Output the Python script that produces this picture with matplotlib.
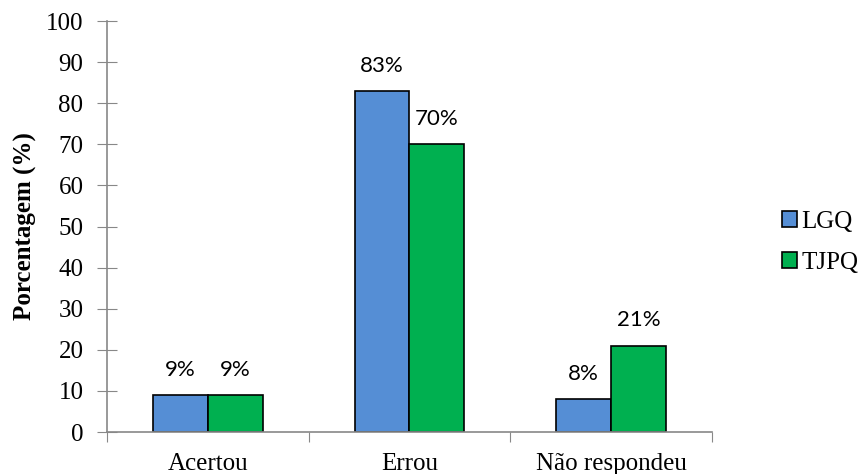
import matplotlib.pyplot as plt
import numpy as np

# Data
categories = ['Acertou', 'Errou', 'Não respondeu']
lgq = [9, 83, 8]
tjpq = [9, 70, 21]
series_names = ['LGQ', 'TJPQ']

fig = plt.figure(figsize=(8.63, 4.74), dpi=100)
ax = fig.add_axes([0.124, 0.0886, 0.701, 0.867])

x = np.arange(len(categories)) + 0.5
w = 0.272
b1 = ax.bar(x - w / 2, lgq, w, color='#558ED5', edgecolor='black', linewidth=1.2, label=series_names[0])
b2 = ax.bar(x + w / 2, tjpq, w, color='#00B050', edgecolor='black', linewidth=1.2, label=series_names[1])

# Data labels
for bars, vals in [(b1, lgq), (b2, tjpq)]:
    for r, v in zip(bars, vals):
        ax.text(r.get_x() + r.get_width() / 2, v + 3.7, f'{v}%', ha='center', va='bottom',
                fontsize=16, family='Lato')

ax.set_xlim(0, 3)
ax.set_ylim(0, 100)
ax.set_yticks(range(0, 101, 10))
ax.set_xticks([0, 1, 2, 3], minor=False)
ax.set_xticklabels([])
ax.set_xticks(x, minor=True)
ax.set_xticklabels(categories, minor=True, family='Liberation Serif', fontsize=18)
ax.tick_params(axis='x', which='minor', length=0, pad=15)
ax.tick_params(axis='x', which='major', direction='out', length=7, color='#888888')
ax.tick_params(axis='y', direction='inout', length=14, color='#888888', pad=10)
for lab in ax.get_yticklabels():
    lab.set_family('Liberation Serif')
    lab.set_fontsize(18)

for s in ['top', 'right']:
    ax.spines[s].set_visible(False)
for s in ['left', 'bottom']:
    ax.spines[s].set_color('#888888')
    ax.spines[s].set_linewidth(1.2)

ax.set_ylabel('Porcentagem (%)', family='Liberation Serif', fontsize=18, fontweight='bold')
ax.yaxis.set_label_coords(-0.116, 0.5)

ax.legend(loc='center left', bbox_to_anchor=(1.1, 0.462), frameon=False,
          prop={'family': 'Liberation Serif', 'size': 18},
          handlelength=0.6, handleheight=0.6, handletextpad=0.15, labelspacing=0.75,
          borderaxespad=0)

fig.savefig('out.png', dpi=100)
